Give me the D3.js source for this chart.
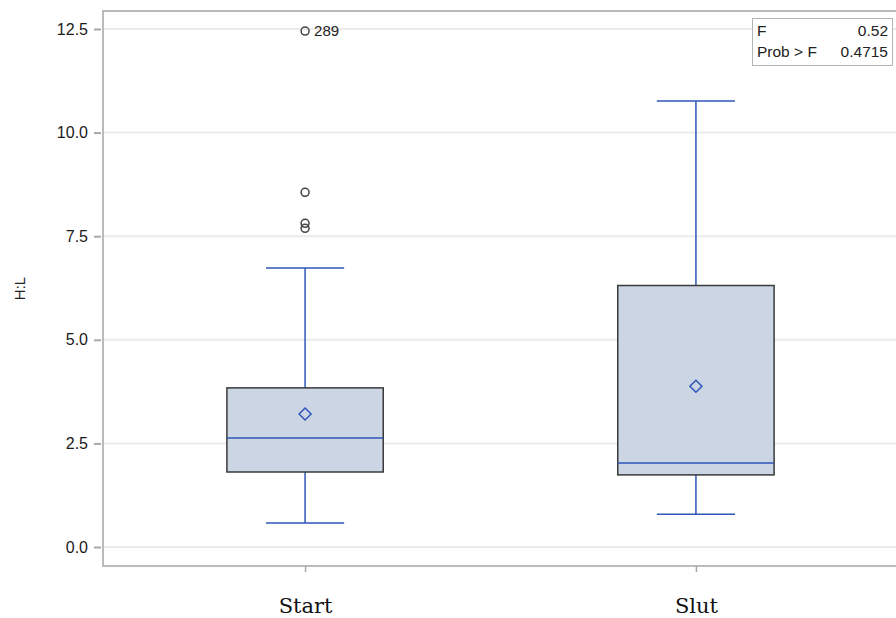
<!DOCTYPE html>
<html>
<head>
<meta charset="utf-8">
<script src="https://cdn.jsdelivr.net/npm/d3@7"></script>
<style>
  html, body { margin: 0; padding: 0; background: #fff; }
  svg { display: block; }
</style>
</head>
<body>
<svg id="chart" width="896" height="618"></svg>
<script>
// Groups and their box-plot summaries for the H:L ratio
const groups = ["Start", "Slut"];
const q1 = [1.81, 1.74];
const median = [2.63, 2.03];
const q3 = [3.84, 6.31];
const mean = [3.21, 3.88];
const whiskerLow = [0.58, 0.79];
const whiskerHigh = [6.73, 10.76];

// Outliers beyond the whiskers (only the Start group has any)
const outlierGroup = ["Start", "Start", "Start", "Start"];
const outlierValue = [12.45, 8.56, 7.81, 7.69];
const outlierLabel = ["289", "", "", ""];

const yTicks = [0.0, 2.5, 5.0, 7.5, 10.0, 12.5];
const statNames = ["F", "Prob > F"];
const statValues = ["0.52", "0.4715"];

const svg = d3.select("#chart");
const frame = { left: 103, top: 11, right: 898, bottom: 566 };
const sans = "'Liberation Sans', Arial, sans-serif";

const x = d3.scalePoint().domain(groups).range([frame.left, frame.right]).padding(0.517);
const y = d3.scaleLinear().domain([0, 12.5]).range([547, 29]);
const step = x.step();
const boxW = step * 0.4;
const capW = step * 0.2;

const blue = "#2f56b8";

// gridlines
svg.append("g").selectAll("line").data(yTicks).join("line")
  .attr("x1", frame.left).attr("x2", frame.right)
  .attr("y1", d => y(d)).attr("y2", d => y(d))
  .attr("stroke", "#ebebeb").attr("stroke-width", 2);

// y axis
const yAxis = svg.append("g").attr("transform", `translate(${frame.left - 2},0)`)
  .call(d3.axisLeft(y).tickValues(yTicks).tickFormat(d3.format(".1f")).tickSize(7).tickPadding(6));
yAxis.select(".domain").remove();
yAxis.selectAll(".tick line").attr("stroke", "#a8a8a8").attr("stroke-width", 2);
yAxis.selectAll(".tick text").attr("fill", "#1a1a1a").style("font", `16px ${sans}`);

// x axis ticks
const xAxis = svg.append("g").attr("transform", `translate(0,${frame.bottom})`)
  .call(d3.axisBottom(x).tickSize(6).tickPadding(0));
xAxis.select(".domain").remove();
xAxis.selectAll(".tick line").attr("stroke", "#a8a8a8").attr("stroke-width", 1.5);
xAxis.selectAll(".tick text").attr("fill", "#111").attr("y", 47).attr("dy", null)
  .style("font", "21px 'DejaVu Serif', 'Liberation Serif', serif");

// frame
svg.append("rect")
  .attr("x", frame.left).attr("y", frame.top)
  .attr("width", frame.right - frame.left).attr("height", frame.bottom - frame.top)
  .attr("fill", "none").attr("stroke", "#a5a5a5").attr("stroke-width", 1.5);

// y label
svg.append("text")
  .attr("transform", `translate(25,${(frame.top + frame.bottom) / 2}) rotate(-90)`)
  .attr("text-anchor", "middle")
  .attr("fill", "#222")
  .style("font", `15px ${sans}`)
  .text("H:L");

// boxes
const gBox = svg.append("g").selectAll("g").data(groups).join("g")
  .attr("transform", d => `translate(${x(d)},0)`);

// whiskers
gBox.append("line")
  .attr("x1", 0).attr("x2", 0)
  .attr("y1", (d, i) => y(whiskerHigh[i])).attr("y2", (d, i) => y(q3[i]))
  .attr("stroke", blue).attr("stroke-width", 1.5);
gBox.append("line")
  .attr("x1", 0).attr("x2", 0)
  .attr("y1", (d, i) => y(q1[i])).attr("y2", (d, i) => y(whiskerLow[i]))
  .attr("stroke", blue).attr("stroke-width", 1.5);
gBox.append("line")
  .attr("x1", -capW / 2).attr("x2", capW / 2)
  .attr("y1", (d, i) => y(whiskerHigh[i])).attr("y2", (d, i) => y(whiskerHigh[i]))
  .attr("stroke", blue).attr("stroke-width", 1.5);
gBox.append("line")
  .attr("x1", -capW / 2).attr("x2", capW / 2)
  .attr("y1", (d, i) => y(whiskerLow[i])).attr("y2", (d, i) => y(whiskerLow[i]))
  .attr("stroke", blue).attr("stroke-width", 1.5);

gBox.append("rect")
  .attr("x", -boxW / 2).attr("width", boxW)
  .attr("y", (d, i) => y(q3[i])).attr("height", (d, i) => y(q1[i]) - y(q3[i]))
  .attr("fill", "#cbd5e4").attr("stroke", "#3a3a3a").attr("stroke-width", 1.5);

gBox.append("line")
  .attr("x1", -boxW / 2).attr("x2", boxW / 2)
  .attr("y1", (d, i) => y(median[i])).attr("y2", (d, i) => y(median[i]))
  .attr("stroke", blue).attr("stroke-width", 1.5);

// mean diamonds
gBox.append("path")
  .attr("transform", (d, i) => `translate(0,${y(mean[i])})`)
  .attr("d", "M0,-6L6,0L0,6L-6,0Z")
  .attr("fill", "none").attr("stroke", blue).attr("stroke-width", 1.5);

// outliers
const gOut = svg.append("g");
gOut.selectAll("circle").data(outlierValue).join("circle")
  .attr("cx", (d, i) => x(outlierGroup[i]))
  .attr("cy", d => y(d))
  .attr("r", 4)
  .attr("fill", "none").attr("stroke", "#444").attr("stroke-width", 1.5);
gOut.selectAll("text").data(outlierValue).join("text")
  .attr("x", (d, i) => x(outlierGroup[i]) + 9)
  .attr("y", d => y(d))
  .attr("dy", "0.35em")
  .attr("fill", "#222")
  .style("font", `15px ${sans}`)
  .text((d, i) => outlierLabel[i]);

// F-test inset
const inset = svg.append("g");
inset.append("rect")
  .attr("x", 752.5).attr("y", 18.5).attr("width", 140).attr("height", 47)
  .attr("fill", "#fff").attr("stroke", "#b5b5b5").attr("stroke-width", 1);
inset.selectAll("text.name").data(statNames).join("text")
  .attr("class", "name")
  .attr("x", 757).attr("y", (d, i) => 36 + i * 21)
  .attr("fill", "#222").style("font", `15.5px ${sans}`)
  .text(d => d);
inset.selectAll("text.val").data(statValues).join("text")
  .attr("class", "val")
  .attr("x", 888).attr("y", (d, i) => 36 + i * 21)
  .attr("text-anchor", "end")
  .attr("fill", "#222").style("font", `15.5px ${sans}`)
  .text(d => d);
</script>
</body>
</html>
